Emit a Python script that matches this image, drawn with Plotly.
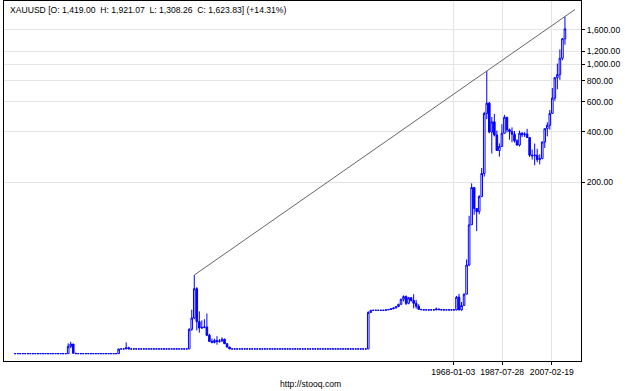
import plotly.graph_objects as go
import math

# ---------------- data (yearly OHLC, XAUUSD) ----------------
years = list(range(1793, 2012))

opens = [
    19.39, 19.39, 19.39, 19.39, 19.39, 19.39, 19.39, 19.39, 19.39, 19.39,   # 1793-1802
    19.39, 19.39, 19.39, 19.39, 19.39, 19.39, 19.39, 19.39, 19.39, 19.39,   # 1803-1812
    19.39, 19.39, 21.4, 22.1, 19.5, 19.39, 19.39, 19.39, 19.39, 19.39,      # 1813-1822
    19.39, 19.39, 19.39, 19.39, 19.39, 19.39, 19.39, 19.39, 19.39, 19.39,   # 1823-1832
    19.39, 19.39, 20.67, 20.67, 20.67, 21.0, 20.67, 20.67, 20.67, 20.67,    # 1833-1842
    20.67, 20.67, 20.67, 20.67, 20.67, 20.67, 20.67, 20.67, 20.67, 20.67,   # 1843-1852
    20.67, 20.67, 20.67, 20.67, 20.67, 20.67, 20.67, 20.67, 20.67, 20.67,   # 1853-1862
    27.0, 31.5, 47.0, 30.0, 27.5, 27.6, 27.9, 24.9, 22.9, 22.6,             # 1863-1872
    23.2, 22.9, 23.0, 23.6, 22.2, 21.2, 20.67, 20.67, 20.67, 20.67,         # 1873-1882
    20.67, 20.67, 20.67, 20.67, 20.67, 20.67, 20.67, 20.67, 20.67, 20.67,   # 1883-1892
    20.67, 20.67, 20.67, 20.67, 20.67, 20.67, 20.67, 20.67, 20.67, 20.67,   # 1893-1902
    20.67, 20.67, 20.67, 20.67, 20.67, 20.67, 20.67, 20.67, 20.67, 20.67,   # 1903-1912
    20.67, 20.67, 20.67, 20.67, 20.67, 20.67, 20.67, 20.67, 20.67, 20.67,   # 1913-1922
    20.67, 20.67, 20.67, 20.67, 20.67, 20.67, 20.67, 20.67, 20.67, 20.67,   # 1923-1932
    20.67, 34.0, 35.0, 35.0, 35.0, 35.0, 35.0, 35.0, 35.2, 35.4,            # 1933-1942
    35.7, 36.1, 36.8, 38.0, 40.7, 42.2, 38.5, 41.5, 40.0, 38.5,             # 1943-1952
    37.0, 35.5, 35.3, 35.2, 35.2, 35.2, 35.2, 35.2, 35.6, 35.3,             # 1953-1962
    35.2, 35.2, 35.2, 35.2, 35.2, 35.2, 41.9, 35.2, 37.4, 43.6,             # 1963-1972
    64.9, 112.3, 186.5, 140.3, 134.5, 164.9, 226.0, 512.0, 589.5, 397.5,    # 1973-1982
    456.9, 382.4, 309.0, 326.8, 390.9, 486.5, 410.2, 401.0, 386.2, 353.2,   # 1983-1992
    333.0, 391.8, 383.3, 387.0, 369.3, 290.2, 287.8, 290.3, 272.7, 276.5,   # 1993-2002
    347.2, 416.3, 435.6, 513.0, 632.0, 833.8, 869.8, 1087.5, 1419.0,        # 2003-2011
]

highs = [
    19.39, 19.39, 19.39, 19.39, 19.39, 19.39, 19.39, 19.39, 19.39, 19.39,
    19.39, 19.39, 19.39, 19.39, 19.39, 19.39, 19.39, 19.39, 19.39, 19.39,
    19.39, 22.3, 22.8, 22.1, 19.5, 19.39, 19.39, 19.39, 19.39, 19.39,
    19.39, 19.39, 19.39, 19.39, 19.39, 19.39, 19.39, 19.39, 19.39, 19.39,
    19.39, 20.67, 20.67, 20.67, 22.6, 21.3, 20.67, 20.67, 20.67, 20.67,
    20.67, 20.67, 20.67, 20.67, 20.67, 20.67, 20.67, 20.67, 20.67, 20.67,
    20.67, 20.67, 20.67, 20.67, 20.67, 20.67, 20.67, 20.67, 20.67, 27.4,
    35.3, 56.6, 48.0, 34.5, 30.5, 31.0, 33.5, 25.4, 23.8, 23.8,
    24.6, 23.6, 24.2, 23.8, 22.3, 21.3, 20.67, 20.67, 20.67, 20.67,
    20.67, 20.67, 20.67, 20.67, 20.67, 20.67, 20.67, 20.67, 20.67, 20.67,
    20.67, 20.67, 20.67, 20.67, 20.67, 20.67, 20.67, 20.67, 20.67, 20.67,
    20.67, 20.67, 20.67, 20.67, 20.67, 20.67, 20.67, 20.67, 20.67, 20.67,
    20.67, 20.67, 20.67, 20.67, 20.67, 20.67, 20.67, 20.67, 20.67, 20.67,
    20.67, 20.67, 20.67, 20.67, 20.67, 20.67, 20.67, 20.67, 20.67, 20.67,
    34.5, 35.0, 35.0, 35.0, 35.0, 35.0, 35.2, 35.3, 35.6, 35.9,
    36.3, 37.0, 38.2, 41.0, 42.9, 42.9, 42.0, 42.0, 43.6, 40.3,
    38.0, 35.6, 35.3, 35.3, 35.3, 35.3, 35.3, 36.3, 35.8, 35.4,
    35.3, 35.3, 35.3, 35.3, 35.3, 42.6, 43.8, 39.2, 44.0, 70.0,
    127.0, 197.5, 186.5, 140.4, 168.2, 243.7, 524.0, 915.0, 599.0, 488.5,
    509.3, 405.9, 340.9, 442.8, 502.8, 486.5, 417.1, 423.8, 403.0, 359.6,
    405.6, 396.3, 396.9, 415.6, 369.3, 313.3, 339.8, 316.6, 293.3, 349.3,
    416.3, 454.2, 537.5, 725.0, 841.1, 1011.3, 1226.1, 1431.3, 1921.07,
]

lows = [
    19.39, 19.39, 19.39, 19.39, 19.39, 19.39, 19.39, 19.39, 19.39, 19.39,
    19.39, 19.39, 19.39, 19.39, 19.39, 19.39, 19.39, 19.39, 19.39, 19.39,
    19.39, 19.39, 20.9, 19.39, 19.39, 19.39, 19.39, 19.39, 19.39, 19.39,
    19.39, 19.39, 19.39, 19.39, 19.39, 19.39, 19.39, 19.39, 19.39, 19.39,
    19.39, 19.39, 20.67, 20.67, 20.67, 20.67, 20.67, 20.67, 20.67, 20.67,
    20.67, 20.67, 20.67, 20.67, 20.67, 20.67, 20.67, 20.67, 20.67, 20.67,
    20.67, 20.67, 20.67, 20.67, 20.67, 20.67, 20.67, 20.67, 20.67, 20.67,
    26.5, 31.0, 26.6, 25.8, 27.3, 27.5, 24.6, 22.7, 22.3, 22.3,
    21.9, 22.5, 22.9, 22.1, 21.1, 20.67, 20.67, 20.67, 20.67, 20.67,
    20.67, 20.67, 20.67, 20.67, 20.67, 20.67, 20.67, 20.67, 20.67, 20.67,
    20.67, 20.67, 20.67, 20.67, 20.67, 20.67, 20.67, 20.67, 20.67, 20.67,
    20.67, 20.67, 20.67, 20.67, 20.67, 20.67, 20.67, 20.67, 20.67, 20.67,
    20.67, 20.67, 20.67, 20.67, 20.67, 20.67, 20.67, 20.67, 20.67, 20.67,
    20.67, 20.67, 20.67, 20.67, 20.67, 20.67, 20.67, 20.67, 20.67, 20.67,
    20.67, 34.0, 35.0, 35.0, 35.0, 35.0, 35.0, 35.0, 35.1, 35.3,
    35.6, 36.0, 36.6, 37.8, 39.5, 37.6, 38.0, 39.4, 36.0, 35.8,
    35.2, 35.1, 35.1, 35.1, 35.1, 35.1, 35.1, 35.1, 35.2, 35.1,
    35.1, 35.1, 35.1, 35.1, 35.1, 35.0, 35.0, 34.8, 37.3, 43.6,
    63.9, 112.0, 128.8, 103.1, 129.6, 164.9, 216.5, 474.0, 391.0, 296.8,
    374.5, 307.5, 284.3, 326.0, 390.0, 395.3, 358.1, 345.9, 344.3, 330.3,
    326.1, 370.3, 372.4, 367.4, 283.0, 273.4, 252.8, 263.8, 255.9, 276.0,
    319.9, 375.0, 411.1, 513.0, 608.4, 712.5, 810.0, 1058.0, 1308.26,
]

closes = [
    19.39, 19.39, 19.39, 19.39, 19.39, 19.39, 19.39, 19.39, 19.39, 19.39,
    19.39, 19.39, 19.39, 19.39, 19.39, 19.39, 19.39, 19.39, 19.39, 19.39,
    19.39, 21.4, 22.1, 19.5, 19.39, 19.39, 19.39, 19.39, 19.39, 19.39,
    19.39, 19.39, 19.39, 19.39, 19.39, 19.39, 19.39, 19.39, 19.39, 19.39,
    19.39, 20.67, 20.67, 20.67, 21.0, 20.67, 20.67, 20.67, 20.67, 20.67,
    20.67, 20.67, 20.67, 20.67, 20.67, 20.67, 20.67, 20.67, 20.67, 20.67,
    20.67, 20.67, 20.67, 20.67, 20.67, 20.67, 20.67, 20.67, 20.67, 27.0,
    31.5, 47.0, 30.0, 27.5, 27.6, 27.9, 24.9, 22.9, 22.6, 23.2,
    22.9, 23.0, 23.6, 22.2, 21.2, 20.67, 20.67, 20.67, 20.67, 20.67,
    20.67, 20.67, 20.67, 20.67, 20.67, 20.67, 20.67, 20.67, 20.67, 20.67,
    20.67, 20.67, 20.67, 20.67, 20.67, 20.67, 20.67, 20.67, 20.67, 20.67,
    20.67, 20.67, 20.67, 20.67, 20.67, 20.67, 20.67, 20.67, 20.67, 20.67,
    20.67, 20.67, 20.67, 20.67, 20.67, 20.67, 20.67, 20.67, 20.67, 20.67,
    20.67, 20.67, 20.67, 20.67, 20.67, 20.67, 20.67, 20.67, 20.67, 20.67,
    34.0, 35.0, 35.0, 35.0, 35.0, 35.0, 35.0, 35.2, 35.4, 35.7,
    36.1, 36.8, 38.0, 40.7, 42.2, 38.5, 41.5, 40.0, 38.5, 37.0,
    35.5, 35.3, 35.2, 35.2, 35.2, 35.2, 35.2, 35.6, 35.3, 35.2,
    35.2, 35.2, 35.2, 35.2, 35.2, 41.9, 35.2, 37.4, 43.6, 64.9,
    112.3, 186.5, 140.3, 134.5, 164.9, 226.0, 512.0, 589.5, 397.5, 456.9,
    382.4, 309.0, 326.8, 390.9, 486.5, 410.2, 401.0, 386.2, 353.2, 333.0,
    391.8, 383.3, 387.0, 369.3, 290.2, 287.8, 290.3, 272.7, 276.5, 347.2,
    416.3, 435.6, 513.0, 632.0, 833.8, 869.8, 1087.5, 1419.0, 1623.83,
]

# axis ticks
x_tick_labels = ["1968-01-03", "1987-07-28", "2007-02-19"]
x_tick_pos = [1966.7, 1986.1, 2005.8]
y_tick_vals = [200, 400, 600, 800, 1000, 1200, 1600]
y_tick_text = ["200.00", "400.00", "600.00", "800.00", "1,000.00", "1,200.00", "1,600.00"]

# trend line: through the 1864 high and the last high, extended
trend_start_year = 1864
trend_end_year = 2015

title_text = "XAUUSD [O: 1,419.00  H: 1,921.07  L: 1,308.26  C: 1,623.83] (+14.31%)"
footer_text = "http://stooq.com"

# ---------------- figure ----------------
FONT = "Liberation Sans, Arial, sans-serif"
BLUE = "#0000ff"

fig = go.Figure()
fig.add_trace(go.Candlestick(
    x=years, open=opens, high=highs, low=lows, close=closes,
    increasing=dict(line=dict(color=BLUE, width=1), fillcolor="#ffffff"),
    decreasing=dict(line=dict(color=BLUE, width=1), fillcolor=BLUE),
    whiskerwidth=0, showlegend=False, hoverinfo="skip",
))

i0 = years.index(trend_start_year)
i1 = len(years) - 1
l0 = math.log10(highs[i0])
l1 = math.log10(highs[i1])
slope = (l1 - l0) / (years[i1] - years[i0])
trend_x = [trend_start_year, trend_end_year]
trend_y = [highs[i0], 10 ** (l0 + slope * (trend_end_year - trend_start_year))]
fig.add_trace(go.Scatter(
    x=trend_x, y=trend_y, mode="lines",
    line=dict(color="#666666", width=1), showlegend=False, hoverinfo="skip",
))

fig.update_layout(
    width=625, height=391,
    margin=dict(l=4, r=44, t=1, b=30),
    paper_bgcolor="white", plot_bgcolor="white",
    font=dict(family=FONT, size=8.6, color="#000000"),
    showlegend=False,
    boxgap=0.1,
    xaxis=dict(
        range=[1788.54, 2017.37],
        tickmode="array", tickvals=x_tick_pos, ticktext=x_tick_labels,
        showgrid=True, gridcolor="#e4e4e4", gridwidth=1,
        showline=True, linecolor="#000000", linewidth=1, mirror=True,
        ticks="outside", ticklen=3, tickcolor="#000000",
        zeroline=False, rangeslider=dict(visible=False),
        tickfont=dict(family=FONT, size=8.6, color="#000000"),
    ),
    yaxis=dict(
        type="log", range=[1.24393, 3.37537], side="right",
        tickmode="array", tickvals=y_tick_vals, ticktext=y_tick_text,
        showgrid=True, gridcolor="#e4e4e4", gridwidth=1,
        showline=True, linecolor="#000000", linewidth=1, mirror=True,
        ticks="outside", ticklen=3, tickcolor="#000000",
        zeroline=False,
        tickfont=dict(family=FONT, size=8.6, color="#000000"),
    ),
    annotations=[
        dict(text=title_text, xref="paper", yref="paper",
             x=(8 - 4) / 577, y=(361 - 10) / 360, xanchor="left", yanchor="middle",
             showarrow=False, font=dict(family=FONT, size=8.6, color="#000000")),
        dict(text=footer_text, xref="paper", yref="paper",
             x=(310 - 4) / 577, y=(361 - 384) / 360, xanchor="center", yanchor="middle",
             showarrow=False, font=dict(family=FONT, size=8.6, color="#000000")),
    ],
)

fig.write_html("out.html")
